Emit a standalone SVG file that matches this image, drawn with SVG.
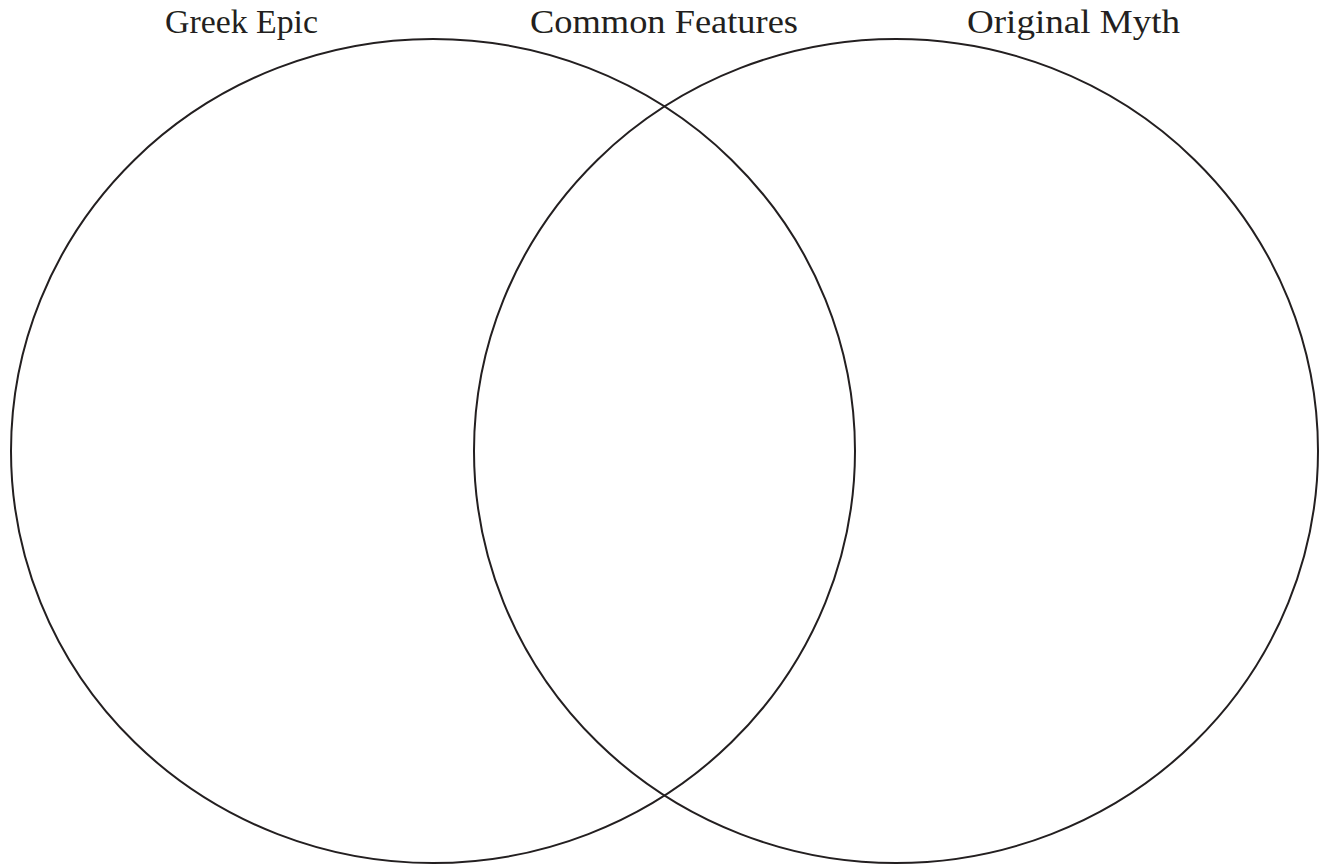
<svg xmlns="http://www.w3.org/2000/svg" width="1325" height="867" viewBox="0 0 1325 867">
<style>
.c{fill:none;stroke:#231f20;stroke-width:2}
.t{font-family:"Liberation Serif",serif;font-size:33px;fill:#231f20}
</style>
<rect width="1325" height="867" fill="#fff"/>
<g id="greek-epic">
<ellipse class="c" cx="433" cy="451" rx="422" ry="412"/>
<text class="t" x="165" y="33" textLength="153" lengthAdjust="spacingAndGlyphs">Greek Epic</text>
</g>
<g id="original-myth">
<ellipse class="c" cx="896" cy="451" rx="422" ry="412"/>
<text class="t" x="967" y="33" textLength="213" lengthAdjust="spacingAndGlyphs">Original Myth</text>
</g>
<g id="common-features">
<text class="t" x="530" y="33" textLength="268" lengthAdjust="spacingAndGlyphs">Common Features</text>
</g>
<g id="connectors"/>
</svg>
